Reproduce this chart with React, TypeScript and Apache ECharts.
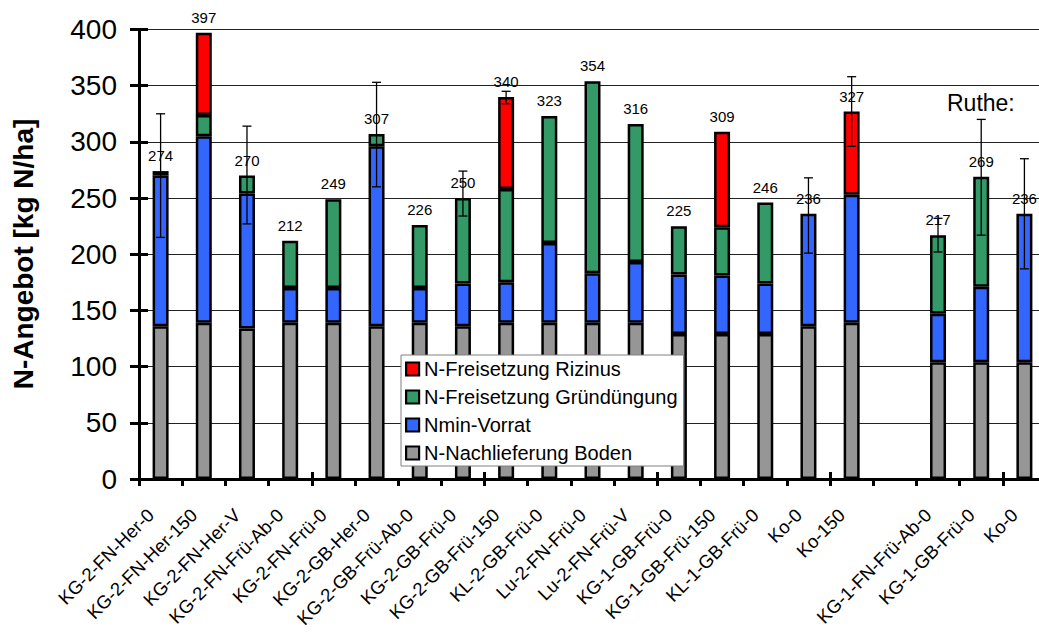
import React, { useEffect, useRef } from 'react';
import * as echarts from 'echarts';

const FONT = '"Liberation Sans", Arial, Helvetica, sans-serif';

const categories = [
  'KG-2-FN-Her-0', 'KG-2-FN-Her-150', 'KG-2-FN-Her-V', 'KG-2-FN-Frü-Ab-0', 'KG-2-FN-Frü-0',
  'KG-2-GB-Her-0', 'KG-2-GB-Frü-Ab-0', 'KG-2-GB-Frü-0', 'KG-2-GB-Frü-150', 'KL-2-GB-Frü-0',
  'Lu-2-FN-Frü-0', 'Lu-2-FN-Frü-V', 'KG-1-GB-Frü-0', 'KG-1-GB-Frü-150', 'KL-1-GB-Frü-0',
  'Ko-0', 'Ko-150', '', 'KG-1-FN-Frü-Ab-0', 'KG-1-GB-Frü-0', 'Ko-0',
];

const seriesNames = ['N-Freisetzung Rizinus', 'N-Freisetzung Gründüngung', 'Nmin-Vorrat', 'N-Nachlieferung Boden'];

// N-Nachlieferung Boden
const soilSupply = [136, 139, 134, 139, 139, 136, 139, 136, 139, 139, 139, 139, 129, 129, 129, 136, 139, null, 104, 104, 104];
// Nmin-Vorrat
const nminStock = [134, 166, 120, 31, 31, 160, 31, 38, 36, 71, 44, 54, 53, 52, 45, 100, 114, null, 43, 67, 132];
// N-Freisetzung Gründüngung
const greenManure = [4, 19, 16, 42, 79, 11, 56, 76, 83, 113, 171, 123, 43, 43, 72, null, null, null, 70, 98, null];
// N-Freisetzung Rizinus
const castor = [null, 73, null, null, null, null, null, null, 82, null, null, null, null, 85, null, null, 74, null, null, null, null];
// totals shown above the bars
const totals = [274, 397, 270, 212, 249, 307, 226, 250, 340, 323, 354, 316, 225, 309, 246, 236, 327, null, 217, 269, 236];
// error bar ranges
const errLow = [215, null, 227, null, null, 260, null, 234, 334, null, null, null, null, null, null, 201, 296, null, 202, 217, 187];
const errHigh = [325, null, 314, null, null, 353, null, 274, 345, null, null, null, null, null, null, 268, 358, null, 232, 320, 285];

const colors = { castor: '#FF0000', green: '#339966', nmin: '#3366FF', soil: '#969696' };

export default function App() {
  const ref = useRef<HTMLDivElement>(null);

  useEffect(() => {
    const chart = echarts.init(ref.current as HTMLDivElement, null, { renderer: 'svg' });

    const errData: number[][] = [];
    errLow.forEach((lo, i) => {
      if (lo != null && errHigh[i] != null) errData.push([i, lo as number, errHigh[i] as number]);
    });
    const labelData: number[][] = [];
    totals.forEach((t, i) => {
      if (t != null) labelData.push([i, t]);
    });

    const barCommon = {
      type: 'bar',
      stack: 'n',
      barWidth: 16,
      xAxisIndex: 0,
      yAxisIndex: 0,
    };

    const option: any = {
      animation: false,
      backgroundColor: '#ffffff',
      textStyle: { fontFamily: FONT },
      grid: { left: 139, right: -7, top: 29.5, bottom: 154, containLabel: false, outerBoundsMode: 'none' },
      legend: {
        data: seriesNames,
        orient: 'vertical',
        left: 401,
        top: 355,
        padding: [4, 6, 3, 4],
        itemGap: 8,
        itemWidth: 13,
        itemHeight: 13,
        icon: 'rect',
        selectedMode: false,
        backgroundColor: '#ffffff',
        borderColor: '#808080',
        borderWidth: 1,
        borderRadius: 0,
        itemStyle: { borderColor: '#000', borderWidth: 2.2 },
        textStyle: { fontSize: 20, color: '#000', fontFamily: FONT, lineHeight: 20 },
      },
      xAxis: [
        {
          type: 'category',
          data: categories,
          position: 'bottom',
          axisLine: { show: true, lineStyle: { color: '#000', width: 3 } },
          axisTick: { show: true, inside: false, length: 7, lineStyle: { color: '#000', width: 3 } },
          axisLabel: {
            show: true,
            rotate: 45,
            margin: 23,
            interval: 0,
            fontSize: 18.5,
            color: '#000',
            fontFamily: FONT,
            padding: [0, 14, 0, 0],
          },
          splitLine: { show: false },
        },
        {
          type: 'category',
          data: categories,
          position: 'bottom',
          axisLine: { show: false },
          axisTick: { show: true, inside: true, length: 7, lineStyle: { color: '#000', width: 3 } },
          axisLabel: { show: false },
          splitLine: { show: false },
        },
      ],
      yAxis: [
        {
          type: 'value',
          min: 0,
          max: 400,
          interval: 50,
          position: 'left',
          axisLine: { show: true, lineStyle: { color: '#000', width: 3 } },
          axisTick: { show: true, inside: false, length: 9, lineStyle: { color: '#000', width: 3 } },
          axisLabel: { fontSize: 28, color: '#000', margin: 22, fontFamily: FONT },
          splitLine: { show: true, lineStyle: { color: '#222', width: 1 } },
        },
        {
          type: 'value',
          min: 0,
          max: 400,
          interval: 50,
          position: 'left',
          axisLine: { show: false },
          axisTick: { show: true, inside: true, length: 9, lineStyle: { color: '#000', width: 3 } },
          axisLabel: { show: false },
          splitLine: { show: false },
        },
      ],
      graphic: [
        {
          type: 'text',
          x: 23,
          y: 254,
          rotation: Math.PI / 2,
          style: {
            text: 'N-Angebot [kg N/ha]',
            fontSize: 28,
            fontWeight: 'bold',
            fontFamily: FONT,
            fill: '#000',
            textAlign: 'center',
            textVerticalAlign: 'middle',
            align: 'center',
            verticalAlign: 'middle',
          },
        },
        {
          type: 'text',
          x: 947,
          y: 103,
          style: {
            text: 'Ruthe:',
            fontSize: 23,
            fontFamily: FONT,
            fill: '#000',
            textAlign: 'left',
            textVerticalAlign: 'middle',
            align: 'left',
            verticalAlign: 'middle',
          },
        },
      ],
      series: [
        {
          ...barCommon,
          name: 'N-Nachlieferung Boden',
          data: soilSupply,
          itemStyle: { color: colors.soil, borderColor: '#000', borderWidth: 2.5 },
        },
        {
          ...barCommon,
          name: 'Nmin-Vorrat',
          data: nminStock,
          itemStyle: { color: colors.nmin, borderColor: '#000', borderWidth: 2.5 },
        },
        {
          ...barCommon,
          name: 'N-Freisetzung Gründüngung',
          data: greenManure,
          itemStyle: { color: colors.green, borderColor: '#000', borderWidth: 2.5 },
        },
        {
          ...barCommon,
          name: 'N-Freisetzung Rizinus',
          data: castor,
          itemStyle: { color: colors.castor, borderColor: '#000', borderWidth: 2.5 },
        },
        {
          type: 'custom',
          name: 'errors',
          xAxisIndex: 0,
          yAxisIndex: 0,
          z: 3,
          encode: { x: 0, y: [1, 2] },
          data: errData,
          renderItem: (params: any, api: any) => {
            const i = api.value(0);
            const lo = api.coord([i, api.value(1)]);
            const hi = api.coord([i, api.value(2)]);
            const cx = lo[0];
            const half = 4.5;
            const st = { stroke: '#000', lineWidth: 1.3 };
            return {
              type: 'group',
              children: [
                { type: 'line', shape: { x1: cx, y1: hi[1], x2: cx, y2: lo[1] }, style: st },
                { type: 'line', shape: { x1: cx - half, y1: hi[1], x2: cx + half, y2: hi[1] }, style: st },
                { type: 'line', shape: { x1: cx - half, y1: lo[1], x2: cx + half, y2: lo[1] }, style: st },
              ],
            };
          },
        },
        {
          type: 'custom',
          name: 'totals',
          xAxisIndex: 0,
          yAxisIndex: 0,
          z: 4,
          encode: { x: 0, y: 1 },
          data: labelData,
          renderItem: (params: any, api: any) => {
            const i = api.value(0);
            const v = api.value(1);
            const p = api.coord([i, v]);
            return {
              type: 'text',
              x: p[0],
              y: p[1] - 15.5,
              style: {
                text: String(v),
                fontSize: 15,
                fontFamily: FONT,
                fill: '#000',
                textAlign: 'center',
                textVerticalAlign: 'middle',
                align: 'center',
                verticalAlign: 'middle',
              },
            };
          },
        },
      ],
    };

    chart.setOption(option);
    return () => chart.dispose();
  }, []);

  return (
    <div
      ref={ref}
      style={{ position: 'fixed', left: 0, top: 0, width: 1039, height: 633, background: '#fff' }}
    />
  );
}
